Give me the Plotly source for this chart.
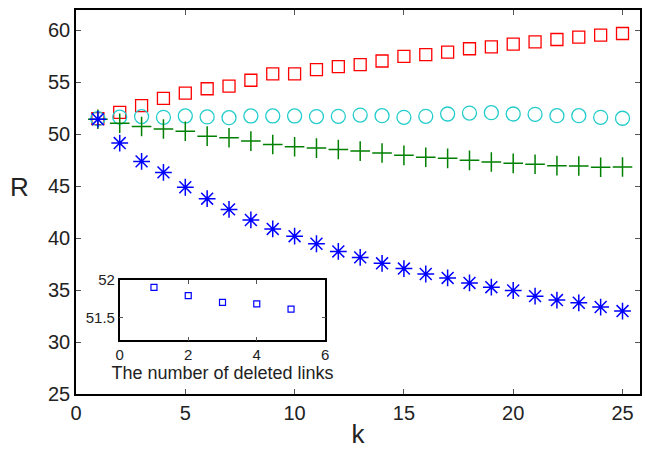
import plotly.graph_objects as go

k = list(range(1, 26))
red_sq = [51.5, 52.1, 52.75, 53.45, 53.96, 54.38, 54.63, 55.2, 55.81, 55.81, 56.22, 56.51, 56.7,
          57.05, 57.5, 57.66, 57.9, 58.23, 58.42, 58.68, 58.9, 59.12, 59.35, 59.54, 59.7]
cyan_circ = [51.5, 51.65, 51.7, 51.63, 51.76, 51.67, 51.6, 51.76, 51.76, 51.76, 51.7, 51.73, 51.85,
             51.79, 51.63, 51.73, 51.95, 52.04, 52.08, 51.95, 51.92, 51.79, 51.79, 51.63, 51.54]
green_plus = [51.45, 51.06, 50.74, 50.51, 50.29, 49.82, 49.66, 49.34, 49.02, 48.8, 48.67, 48.54, 48.38,
              48.19, 47.97, 47.78, 47.68, 47.49, 47.33, 47.2, 47.11, 46.98, 46.95, 46.82, 46.85]
blue_star = [51.45, 49.15, 47.39, 46.33, 44.9, 43.8, 42.77, 41.75, 40.89, 40.19, 39.46, 38.72, 38.15,
             37.58, 37.07, 36.55, 36.17, 35.69, 35.28, 34.96, 34.42, 34.04, 33.78, 33.37, 32.98]

inset_x = [1, 2, 3, 4, 5]
inset_y = [51.90, 51.79, 51.70, 51.68, 51.61]

main_xticks = [0, 5, 10, 15, 20, 25]
main_yticks = [25, 30, 35, 40, 45, 50, 55, 60]
inset_xticks = [0, 2, 4, 6]
inset_yticks = [51.5, 52]

FONT = "Liberation Sans, Arial, sans-serif"
TXT = "#222222"

fig = go.Figure()
fig.add_trace(go.Scatter(x=k, y=red_sq, mode="markers",
                         marker=dict(symbol="square-open", size=12, color="#ff0000", line=dict(width=1.3))))
fig.add_trace(go.Scatter(x=k, y=cyan_circ, mode="markers",
                         marker=dict(symbol="circle-open", size=14, color="#22cccc", line=dict(width=1.3))))
fig.add_trace(go.Scatter(x=k, y=green_plus, mode="markers",
                         marker=dict(symbol="cross-thin-open", size=14, color="#008000", line=dict(width=1.5))))
fig.add_trace(go.Scatter(x=k, y=blue_star, mode="markers",
                         marker=dict(symbol="asterisk-open", size=14, color="#0000ff", line=dict(width=1.5))))
fig.add_trace(go.Scatter(x=inset_x, y=inset_y, mode="markers", xaxis="x2", yaxis="y2",
                         marker=dict(symbol="square-open", size=6, color="#0000ff", line=dict(width=1.2))))

fig.update_layout(
    width=645, height=449,
    margin=dict(l=76, r=1, t=7, b=55),
    paper_bgcolor="white", plot_bgcolor="white",
    showlegend=False,
    font=dict(family=FONT, color=TXT),
    xaxis=dict(range=[0, 25.8], tickvals=main_xticks, ticks="inside", ticklen=5, tickcolor="#555555",
               showline=True, linecolor="black", linewidth=1.5, mirror="ticks", showgrid=False,
               zeroline=False, tickfont=dict(size=20, family=FONT, color=TXT),
               title=dict(text="k", font=dict(size=26, family=FONT, color=TXT), standoff=2)),
    yaxis=dict(range=[25, 61.96], tickvals=main_yticks, ticks="inside", ticklen=5, tickcolor="#555555",
               showline=True, linecolor="black", linewidth=1.5, mirror="ticks", showgrid=False,
               zeroline=False, tickfont=dict(size=20, family=FONT, color=TXT)),
    xaxis2=dict(domain=[0.0775, 0.442], anchor="y2", range=[0, 6], tickvals=inset_xticks,
                ticks="inside", ticklen=4, tickcolor="#555555", showline=True, linecolor="black",
                linewidth=1.5, mirror="ticks", showgrid=False, zeroline=False,
                tickfont=dict(size=15, family=FONT, color=TXT),
                title=dict(text="The number of deleted links", font=dict(size=18, family=FONT, color=TXT),
                           standoff=0)),
    yaxis2=dict(domain=[0.1395, 0.297], anchor="x2", range=[51.19, 52.0], tickvals=inset_yticks,
                ticktext=["51.5", "52"],
                ticks="inside", ticklen=4, tickcolor="#555555", showline=True, linecolor="black",
                linewidth=1.5, mirror="ticks", showgrid=False, zeroline=False,
                tickfont=dict(size=15, family=FONT, color=TXT)),
    annotations=[dict(text="R", xref="paper", yref="paper", x=-0.1, y=0.54, xanchor="center",
                      yanchor="middle", showarrow=False, font=dict(size=26, family=FONT, color=TXT))],
)

fig.write_html("out.html")
